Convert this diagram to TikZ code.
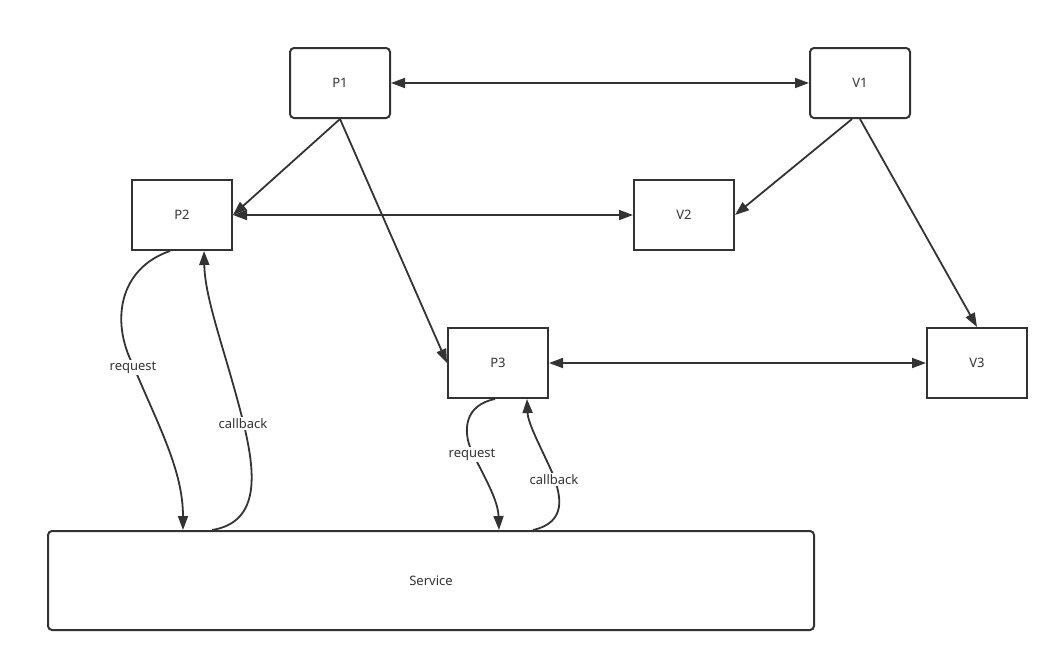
\documentclass[tikz,border=0pt]{standalone}
\usepackage{fontspec}
\setmainfont{Noto Sans}
\usetikzlibrary{arrows.meta}
\definecolor{ink}{HTML}{333333}
\begin{document}
\begin{tikzpicture}[x=1pt,y=-1pt,
  box/.style={draw=ink,line width=2pt,minimum width=100pt,minimum height=70pt,inner sep=0pt,font=\fontsize{13}{15}\selectfont,text=ink},
  rbox/.style={box,rounded corners=4pt},
  conn/.style={draw=ink,line width=1.8pt,-{Triangle[length=14pt,width=10pt]}},
  bconn/.style={conn,{Triangle[length=14pt,width=10pt]}-{Triangle[length=14pt,width=10pt]}},
  lbl/.style={fill=white,inner sep=1.5pt,yshift=-2.5pt,font=\fontsize{13}{15}\selectfont,text=ink}]
\useasboundingbox (0,0) rectangle (1059,662);
\node[rbox] (P1) at (340,83) {P1};
\node[rbox] (V1) at (860,83) {V1};
\node[box] (P2) at (182,215) {P2};
\node[box] (V2) at (684,215) {V2};
\node[box] (P3) at (498,363) {P3};
\node[box] (V3) at (977,363) {V3};
\node[rbox,minimum width=766pt,minimum height=99pt] (S) at (431,580.5) {Service};

\draw[bconn] (P1.east) -- (V1.west);
\draw[bconn] (P2.east) -- (V2.west);
\draw[bconn] (P3.east) -- (V3.west);
\draw[conn] (P1.south) -- (P2.east);
\draw[conn] (P1.south) -- (P3.west);
\draw[conn] ([xshift=-8pt]V1.south) -- (V2.east);
\draw[conn] (V1.south) -- (V3.north);

% P2 <-> Service
\draw[conn] ([xshift=-12pt]P2.south) .. controls (120,268) and (110,320) .. (133,365)
  node[lbl] {request}
  .. controls (158,425) and (183,470) .. ([xshift=-248pt]S.north);
\draw[conn] ([xshift=-219pt]S.north) .. controls (262,522) and (255,470) .. (243,421)
  node[lbl] {callback}
  .. controls (225,350) and (205,300) .. ([xshift=22pt]P2.south);

% P3 <-> Service
\draw[conn] ([xshift=-3pt]P3.south) .. controls (465,405) and (462,430) .. (472,452)
  node[lbl] {request}
  .. controls (485,478) and (498,500) .. ([xshift=68pt]S.north);
\draw[conn] ([xshift=102pt]S.north) .. controls (568,522) and (560,495) .. (554,477)
  node[lbl] {callback}
  .. controls (545,455) and (528,425) .. ([xshift=29pt]P3.south);
\end{tikzpicture}
\end{document}
